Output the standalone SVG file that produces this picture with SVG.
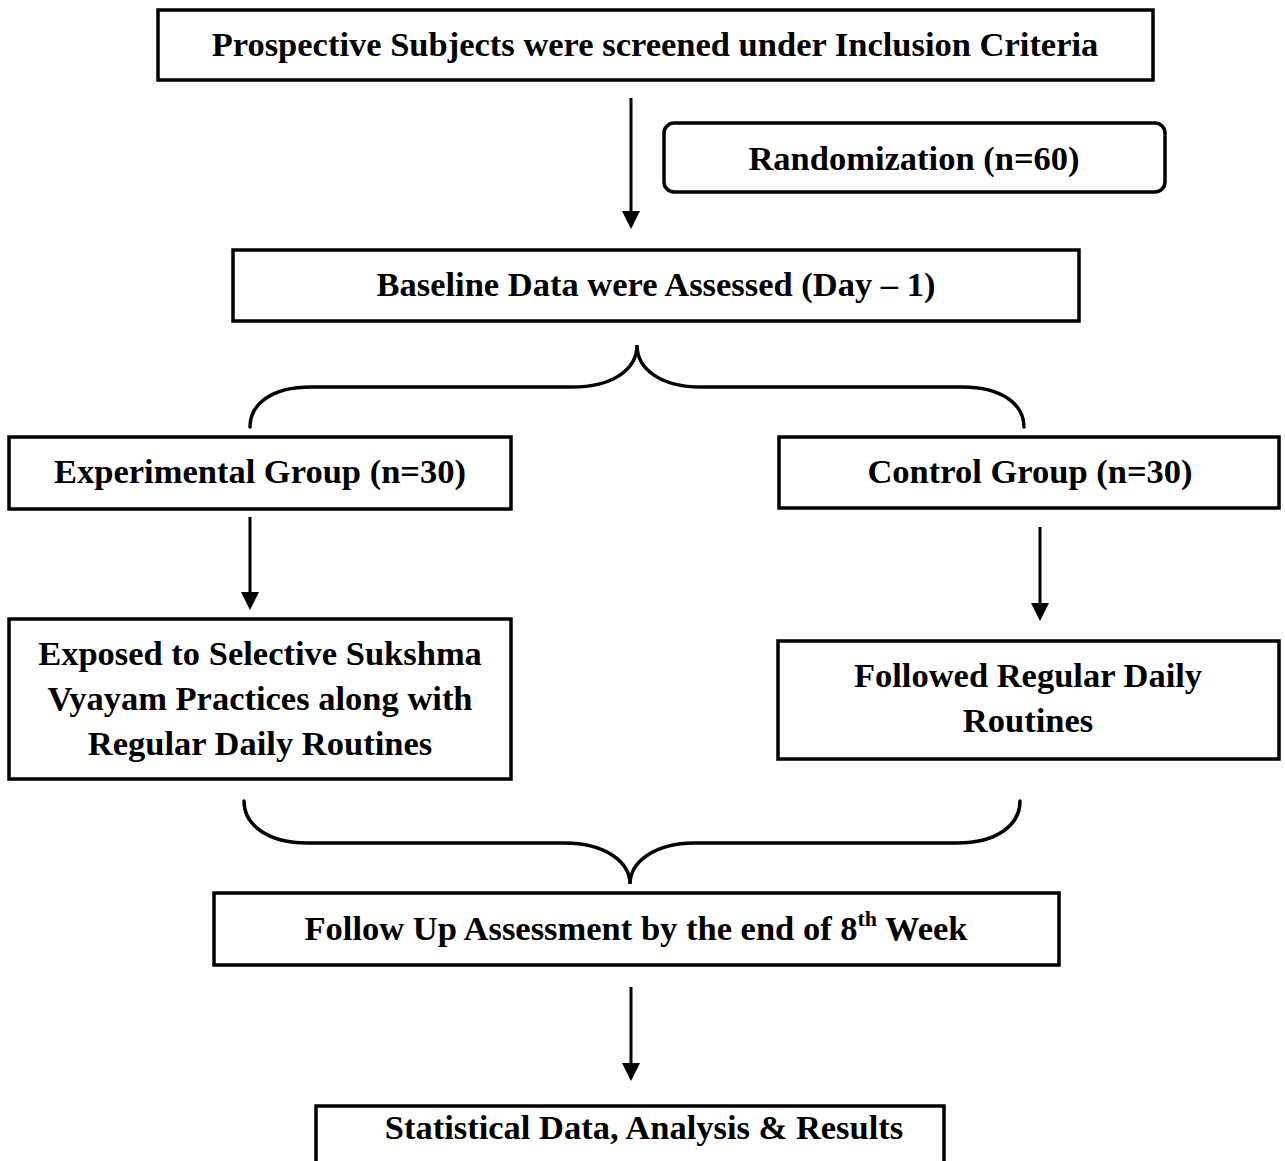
<svg xmlns="http://www.w3.org/2000/svg" width="1285" height="1161" viewBox="0 0 1285 1161">
<defs>
<style>
.box{fill:#fff;stroke:#000;stroke-width:3.5}
.t{font-family:"Liberation Serif","Times New Roman",serif;font-weight:bold;font-size:34.5px;fill:#000;text-anchor:middle}
.ln{fill:none;stroke:#000;stroke-width:3}
.br{fill:none;stroke:#000;stroke-width:3.5;stroke-linecap:round}
</style>
<marker id="ah" markerWidth="6" markerHeight="6" refX="5" refY="3" orient="auto" markerUnits="strokeWidth" viewBox="0 0 6 6">
<path d="M0,0 L6,3 L0,6 z" fill="#000"/>
</marker>
</defs>
<rect width="1285" height="1161" fill="#fff"/>
<g id="connectors">
<line class="ln" x1="631" y1="98" x2="631" y2="226" marker-end="url(#ah)"/>
<line class="ln" x1="250" y1="517" x2="250" y2="607" marker-end="url(#ah)"/>
<line class="ln" x1="1040" y1="527" x2="1040" y2="618" marker-end="url(#ah)"/>
<line class="ln" x1="631" y1="987" x2="631" y2="1078" marker-end="url(#ah)"/>
<path class="br" d="M250,427 C250,405 270,387 311,387 L572,387 C612,387 637,370 637,345 C637,370 662,387 701,387 L962,387 C1003,387 1024,405 1024,427"/>
<path class="br" d="M244,801 C244,825 268,843 307,843 L565,843 C605,843 630,862 630,884 C630,862 655,843 694,843 L957,843 C997,843 1020,825 1020,801"/>
</g>
<g id="n1"><rect class="box" x="158" y="10" width="995" height="70"/><text class="t" x="655" y="56">Prospective Subjects were screened under Inclusion Criteria</text></g>
<g id="n2"><rect class="box" x="664" y="123" width="501" height="69" rx="10"/><text class="t" x="914" y="170">Randomization (n=60)</text></g>
<g id="n3"><rect class="box" x="233" y="250" width="846" height="71"/><text class="t" x="656" y="296">Baseline Data were Assessed (Day – 1)</text></g>
<g id="n4"><rect class="box" x="9" y="437" width="502" height="72"/><text class="t" x="260" y="483">Experimental Group (n=30)</text></g>
<g id="n5"><rect class="box" x="779" y="437" width="500" height="71"/><text class="t" x="1030" y="483">Control Group (n=30)</text></g>
<g id="n6"><rect class="box" x="9" y="619" width="502" height="160"/>
<text class="t" x="260" y="665">Exposed to Selective Sukshma</text>
<text class="t" x="260" y="710">Vyayam Practices along with</text>
<text class="t" x="260" y="755">Regular Daily Routines</text></g>
<g id="n7"><rect class="box" x="778" y="641" width="501" height="118"/>
<text class="t" x="1028" y="687">Followed Regular Daily</text>
<text class="t" x="1028" y="732">Routines</text></g>
<g id="n8"><rect class="box" x="214" y="893" width="845" height="72"/><text class="t" x="636" y="940">Follow Up Assessment by the end of 8<tspan font-size="22" dy="-14">th</tspan><tspan dy="14"> Week</tspan></text></g>
<g id="n9"><rect class="box" x="316" y="1106" width="628" height="70"/><text class="t" x="644" y="1139">Statistical Data, Analysis &amp; Results</text></g>
</svg>
